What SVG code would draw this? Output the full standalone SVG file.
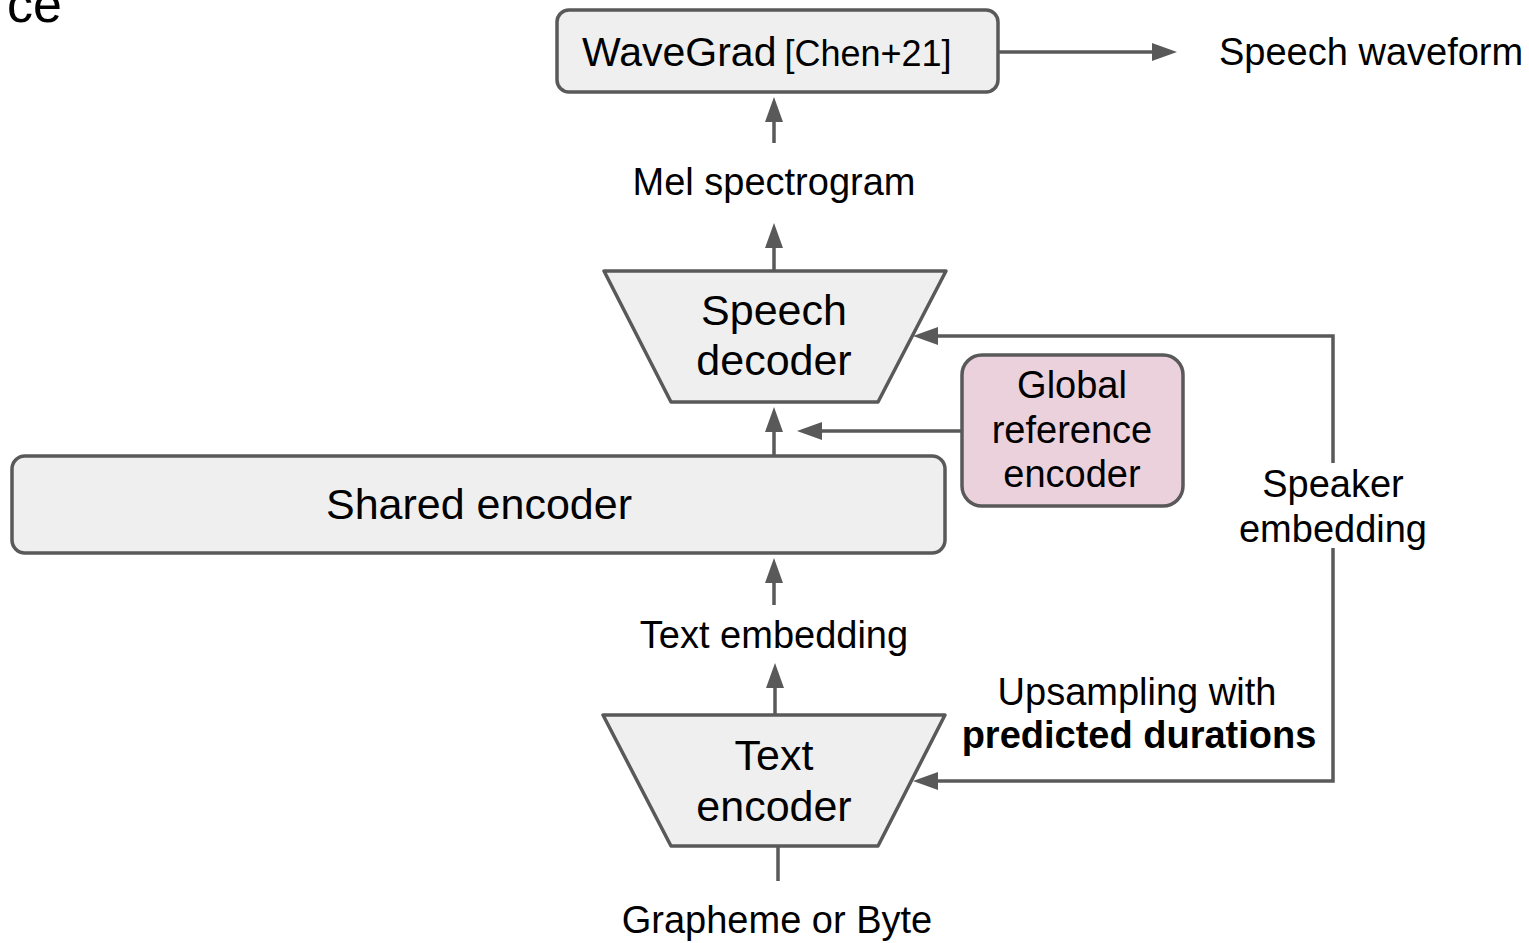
<svg xmlns="http://www.w3.org/2000/svg" width="1529" height="943" viewBox="0 0 1529 943">
  <style>
    text { font-family: "Liberation Sans", Arial, sans-serif; fill: #000000; }
    .box { fill: #efefef; stroke: #595959; stroke-width: 3.5; stroke-linejoin: round; }
    .pink { fill: #ead1dc; stroke: #595959; stroke-width: 3.5; }
    .wire { fill: none; stroke: #595959; stroke-width: 3.5; }
    .lbl { font-size: 38px; text-anchor: middle; }
    .big { font-size: 43px; text-anchor: middle; }
  </style>
  <defs>
    <marker id="head" viewBox="0 0 25 18" refX="2" refY="9" markerWidth="25" markerHeight="18" markerUnits="userSpaceOnUse" orient="auto-start-reverse">
      <path d="M0,0 L25,9 L0,18 z" fill="#595959"/>
    </marker>
  </defs>

  <rect width="1529" height="943" fill="#ffffff"/>

  <!-- slide title fragment at the top-left edge -->
  <text x="62" y="22" font-size="52" text-anchor="end">ce</text>

  <!-- connectors -->
  <g id="connectors">
    <line class="wire" x1="998" y1="52" x2="1154" y2="52" marker-end="url(#head)"/>
    <line class="wire" x1="774" y1="143" x2="774" y2="120" marker-end="url(#head)"/>
    <line class="wire" x1="774" y1="271" x2="774" y2="246" marker-end="url(#head)"/>
    <line class="wire" x1="774" y1="456" x2="774" y2="430" marker-end="url(#head)"/>
    <line class="wire" x1="962" y1="431" x2="820" y2="431" marker-end="url(#head)"/>
    <path class="wire" d="M936,336 H1333 V781 H936" marker-start="url(#head)" marker-end="url(#head)"/>
    <line class="wire" x1="774" y1="605" x2="774" y2="581" marker-end="url(#head)"/>
    <line class="wire" x1="775" y1="715" x2="775" y2="686" marker-end="url(#head)"/>
    <line class="wire" x1="778" y1="846" x2="778" y2="881"/>
  </g>

  <!-- edge labels -->
  <g id="labels">
    <text class="lbl" x="774" y="195">Mel spectrogram</text>
    <text class="lbl" x="774" y="648">Text embedding</text>
    <text class="lbl" x="777" y="933">Grapheme or Byte</text>
    <text x="1219" y="65" font-size="38">Speech waveform</text>
    <rect x="1228" y="463" width="210" height="85" fill="#ffffff"/>
    <text class="lbl" x="1333" y="497">Speaker</text>
    <text class="lbl" x="1333" y="542">embedding</text>
    <text class="lbl" x="1137" y="705">Upsampling with</text>
    <text class="lbl" x="1139" y="748" font-weight="bold">predicted durations</text>
  </g>

  <g id="wavegrad">
    <rect class="box" x="557" y="10" width="441" height="82" rx="12"/>
    <text x="582" y="66" font-size="41">WaveGrad<tspan font-size="36" dx="8">[Chen+21]</tspan></text>
  </g>

  <g id="speech-decoder">
    <polygon class="box" points="604,271 946,271 878,402 671,402"/>
    <text class="big" x="774" y="325">Speech</text>
    <text class="big" x="774" y="375">decoder</text>
  </g>

  <g id="global-reference-encoder">
    <rect class="pink" x="962" y="355" width="221" height="151" rx="20"/>
    <text class="lbl" x="1072" y="398">Global</text>
    <text class="lbl" x="1072" y="443">reference</text>
    <text class="lbl" x="1072" y="487">encoder</text>
  </g>

  <g id="shared-encoder">
    <rect class="box" x="12" y="456" width="933" height="97" rx="13"/>
    <text class="big" x="479" y="519">Shared encoder</text>
  </g>

  <g id="text-encoder">
    <polygon class="box" points="603,715 945,715 878,846 671,846"/>
    <text class="big" x="774" y="770">Text</text>
    <text class="big" x="774" y="821">encoder</text>
  </g>
</svg>
